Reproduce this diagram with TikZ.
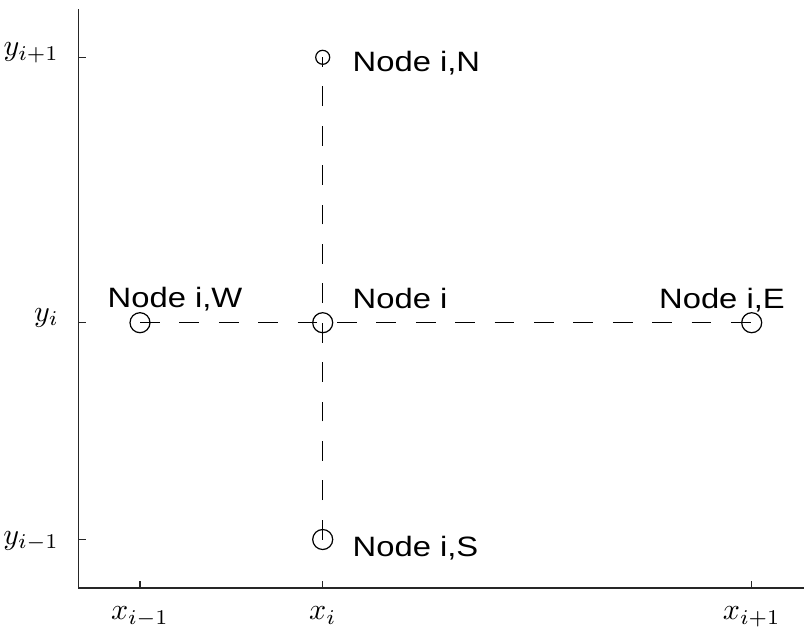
\documentclass[tikz,border=0pt]{standalone}
\usepackage[no-math]{fontspec}
\newfontfamily\helv[FakeStretch=1.17]{Liberation Sans}
\newcommand{\bigmath}[1]{\scalebox{3.0}{$#1$}}
\begin{document}
\begin{tikzpicture}[x=1pt,y=-1pt,
  axisline/.style={line width=1.6pt, draw=black!85},
  tickline/.style={line width=1.5pt, draw=black!85},
  gridline/.style={line width=1.2pt, dash pattern=on 19.7pt off 19.7pt},
  pt/.style={circle, draw, line width=1.2pt, minimum size=20pt, inner sep=0pt},
  smallpt/.style={pt, minimum size=14pt},
  lab/.style={font=\helv\fontsize{28}{32}\selectfont, inner sep=0pt},
  mlab/.style={inner sep=0pt}]
\useasboundingbox (0,0) rectangle (806,627);
% axes
\coordinate (O) at (78.3,588);
\coordinate (Ytop) at (78.3,9.3);
\coordinate (Xend) at (804,588);
\draw[axisline] (Ytop) -- (O) -- (Xend);
% ticks
\foreach \yy in {57.3,322.7,539.5} \draw[tickline] (78.3,\yy) -- ++(7.7,0);
\foreach \xx in {140,322.7,751.7} \draw[tickline] (\xx,588) -- ++(0,-7.2);
% node positions
\coordinate (cW) at (140,322.7);
\coordinate (cC) at (322.7,322.7);
\coordinate (cE) at (751.7,322.7);
\coordinate (cN) at (322.7,57.3);
\coordinate (cS) at (322.7,539.5);
% dashed lines
\draw[gridline] (cW) -- (cE);
\draw[gridline] (cS) -- (cN);
% circles
\node[pt] (W) at (cW) {};
\node[pt] (C) at (cC) {};
\node[pt] (E) at (cE) {};
\node[smallpt] (N) at (cN) {};
\node[pt] (S) at (cS) {};
% node labels
\node[lab, anchor=base west] (lN) at (352.5,71.7) {Node i,N};
\node[lab, anchor=base west] (lS) at (352.5,556) {Node i,S};
\node[lab, anchor=base west] (lC) at (352.5,308) {Node i};
\node[lab, anchor=base west] (lW) at (107.5,307) {Node i,W};
\node[lab, anchor=base east] (lE) at (785,308) {Node i,E};
% tick labels
\node[mlab, anchor=base] (x1) at (140,619.5) {\bigmath{x_{i-1}}};
\node[mlab, anchor=base] (x2) at (322.7,619.5) {\bigmath{x_i}};
\node[mlab, anchor=base] (x3) at (751.7,619.5) {\bigmath{x_{i+1}}};
\node[mlab, anchor=base east] (y3) at (59,55.5) {\bigmath{y_{i+1}}};
\node[mlab, anchor=base east] (y2) at (59,321) {\bigmath{y_i}};
\node[mlab, anchor=base east] (y1) at (59,544) {\bigmath{y_{i-1}}};
\end{tikzpicture}
\end{document}
